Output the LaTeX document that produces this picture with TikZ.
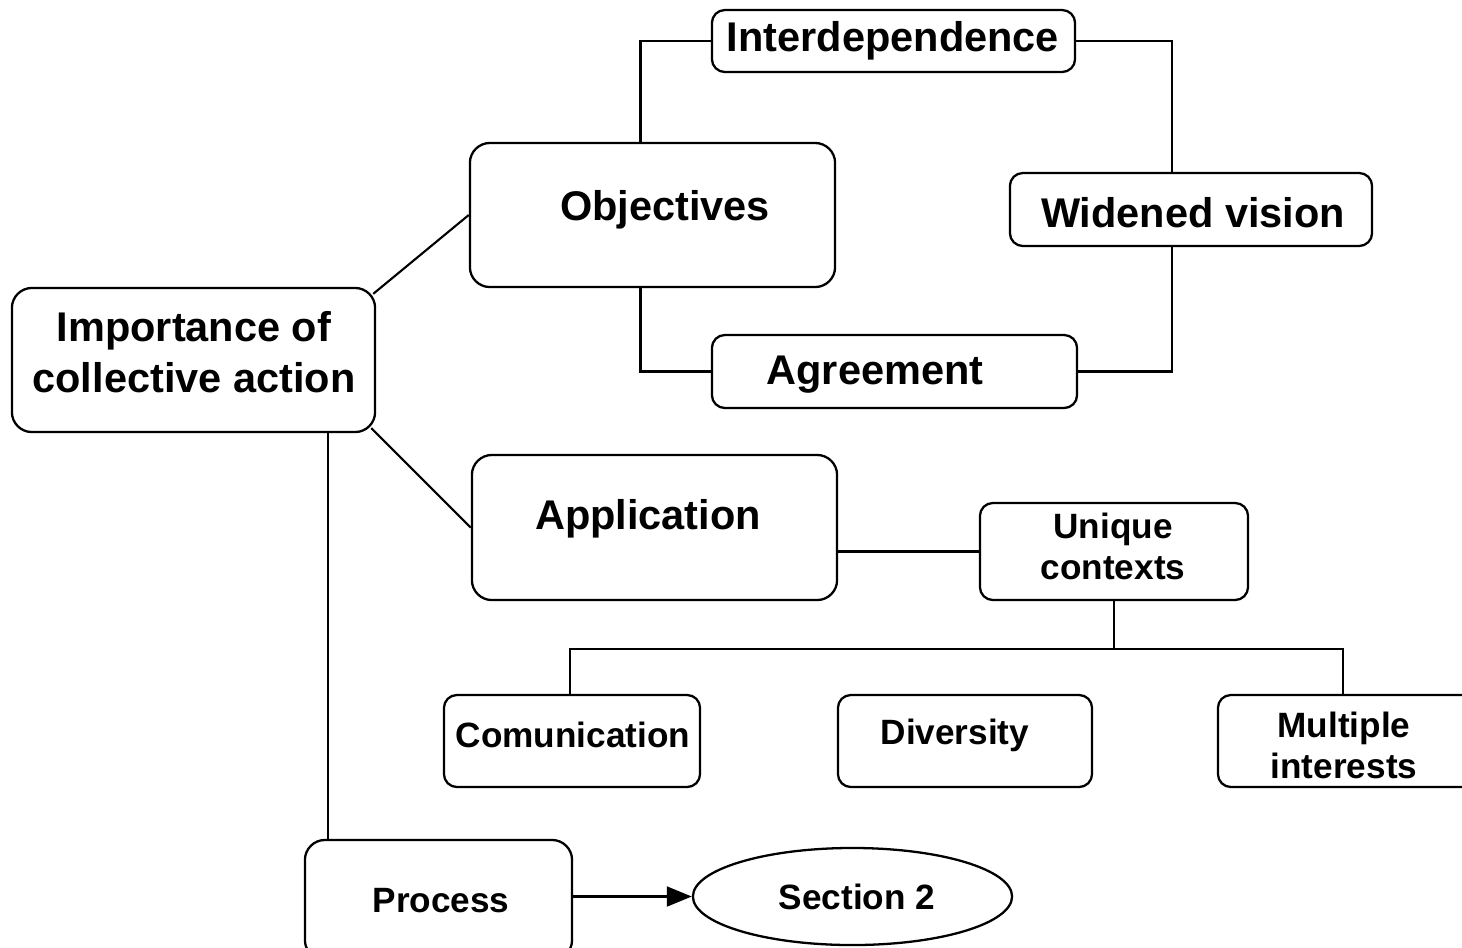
\documentclass[tikz,border=0pt]{standalone}
\usepackage{fontspec}
\setmainfont{Liberation Sans}
\usetikzlibrary{calc,arrows.meta,shapes.geometric}
\begin{document}
\begin{tikzpicture}[x=0.01cm,y=-0.01cm,
  box/.style={draw,line width=0.65pt,rounded corners=0.2cm,inner sep=0pt},
  sbox/.style={draw,line width=0.65pt,rounded corners=0.13cm,inner sep=0pt},
  big/.style={font=\fontsize{11.8}{14.5}\selectfont\bfseries,align=center,inner sep=0pt},
  small/.style={font=\fontsize{10}{11.7}\selectfont\bfseries,align=center,inner sep=0pt},
  link/.style={line width=0.6pt}]
\useasboundingbox (0,0) rectangle (1462,947);
\clip (0,0) rectangle (1462,947);

% boxes
\node[sbox,minimum width=3.63cm,minimum height=0.62cm] (inter) at (893.5,41) {};
\node[box,minimum width=3.65cm,minimum height=1.44cm] (obj) at (652.5,215) {};
\node[sbox,minimum width=3.62cm,minimum height=0.73cm] (wide) at (1191,209.5) {};
\node[box,minimum width=3.63cm,minimum height=1.44cm] (imp) at (193.5,360) {};
\node[sbox,minimum width=3.65cm,minimum height=0.73cm] (agree) at (894.5,371.5) {};
\node[box,minimum width=3.65cm,minimum height=1.45cm] (app) at (654.5,527.5) {};
\node[sbox,minimum width=2.68cm,minimum height=0.97cm] (uniq) at (1114,551.5) {};
\node[sbox,minimum width=2.56cm,minimum height=0.92cm] (comm) at (572,741) {};
\node[sbox,minimum width=2.54cm,minimum height=0.92cm] (div) at (965,741) {};
\node[sbox,minimum width=2.62cm,minimum height=0.92cm] (mult) at (1349,741) {};
\node[box,minimum width=2.67cm,minimum height=1.20cm] (proc) at (438.5,900) {};
\node[draw,line width=0.65pt,ellipse,minimum width=3.19cm,minimum height=0.97cm,inner sep=0pt] (sec) at (852.5,896.5) {};

% texts
\node[big] (intert) at (893,41) {Interdependence};
\node[big] (objt) at (665,210) {Objectives};
\node[big] (widet) at (1193,213) {Widened vision};
\node[big] (impt) at (194,352) {Importance of\\collective action};
\node[big] (agreet) at (875,375) {Agreement};
\node[big] (appt) at (648,519) {Application};
\node[small] (uniqt) at (1113,546) {Unique\\contexts};
\node[small] (commt) at (573,735) {Comunication};
\node[small] (divt) at (955,735) {Diversity};
\node[small] (multt) at (1344,745) {Multiple\\interests};
\node[small] (proct) at (441,901) {Process};
\node[small] (sect) at (857,897) {Section 2};

% connectors
\draw[link] ($(imp.north east)+(-3,7)$) -- (obj.west);
\draw[link] ($(imp.south east)+(-5,-5)$) -- (app.west);
\draw[link] ($(obj.north)+(-12,0)$) |- (inter.west);
\draw[link] (inter.east) -| ($(wide.north)+(-19,0)$);
\draw[link] ($(wide.south)+(-19,0)$) |- (agree.east);
\draw[link] ($(obj.south)+(-12,0)$) |- (agree.west);
\draw[link] (uniq.west) -- (uniq.west -| app.east);
\coordinate (bus) at ($(uniq.south)+(0,48)$);
\draw[link] (uniq.south) -- (bus);
\draw[link] ($(comm.north)+(-2,0)$) |- (bus) -| ($(mult.north)+(-6,0)$);
\draw[link] ($(div.north)+(-2,0)$) -- ($(div.north)+(-2,0)$ |- bus);
\coordinate (down) at ($(imp.south)+(134.5,0)$);
\draw[link] (down) -- (down |- proc.north);
\draw[link,-{Triangle[length=0.25cm,width=0.2cm]}] (proc.east |- sec.west) -- (sec.west);
\end{tikzpicture}
\end{document}
